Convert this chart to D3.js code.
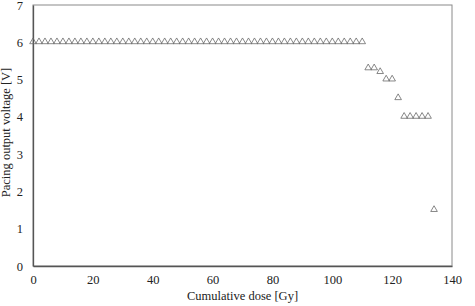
<!DOCTYPE html>
<html>
<head>
<meta charset="utf-8">
<script src="https://cdn.jsdelivr.net/npm/d3@7"></script>
<style>
  body { margin: 0; background: #fff; }
  text { font-family: "Liberation Serif", "Times New Roman", serif; fill: #222; }
</style>
</head>
<body>
<svg id="chart"></svg>
<script>
// dose every 2 Gy, output voltage
const doses = d3.range(0, 111, 2).concat([112, 114, 116, 118, 120, 122, 124, 126, 128, 130, 132, 134]);
const voltages = doses.slice(0, 56).map(() => 6.0)
  .concat([5.3, 5.3, 5.2, 5.0, 5.0, 4.5, 4.0, 4.0, 4.0, 4.0, 4.0, 1.5]);
const xTicks = [0, 20, 40, 60, 80, 100, 120, 140];
const yTicks = [0, 1, 2, 3, 4, 5, 6, 7];

const width = 475, height = 306;
const margin = { top: 5, right: 23, bottom: 40, left: 33 };
const w = width - margin.left - margin.right;
const h = height - margin.top - margin.bottom;

const svg = d3.select("#chart").attr("width", width).attr("height", height);
const chart = svg.append("g").attr("transform", `translate(${margin.left},${margin.top})`);

const x = d3.scaleLinear().domain([0, 140]).range([0, w]);
const y = d3.scaleLinear().domain([0, 7]).range([h, 0]);

// plot border
chart.append("rect")
  .attr("width", w).attr("height", h)
  .attr("fill", "none").attr("stroke", "#8a8a8a").attr("stroke-width", 1);

const xAxis = chart.append("g")
  .attr("transform", `translate(0,${h})`)
  .call(d3.axisBottom(x).tickValues(xTicks).tickFormat(d3.format("d")).tickSize(0).tickPadding(9));
const yAxis = chart.append("g")
  .call(d3.axisLeft(y).tickValues(yTicks).tickFormat(d3.format("d")).tickSize(0).tickPadding(10));

[xAxis, yAxis].forEach(a => {
  a.select(".domain").attr("stroke", "#555").attr("stroke-width", 1.3);
  a.selectAll("text")
    .style("font-family", "Liberation Serif, serif")
    .style("font-size", "12.5px")
    .attr("fill", "#222");
});

// triangles
const tri = d3.symbol().type(d3.symbolTriangle).size(19);
chart.selectAll(".pt")
  .data(doses.map((d, i) => ({ dose: d, v: voltages[i] })))
  .enter().append("path")
    .attr("class", "pt")
    .attr("d", tri)
    .attr("transform", d => `translate(${x(d.dose)},${y(d.v) - 0.5})`)
    .attr("fill", "none")
    .attr("stroke", "#6a6a6a")
    .attr("stroke-width", 0.8);

svg.append("text")
  .attr("x", margin.left + w / 2).attr("y", 300)
  .attr("text-anchor", "middle")
  .style("font-size", "12.5px")
  .text("Cumulative dose [Gy]");

svg.append("text")
  .attr("transform", `translate(10,${margin.top + h / 2 - 3}) rotate(-90)`)
  .attr("text-anchor", "middle")
  .style("font-size", "12.5px")
  .text("Pacing output voltage [V]");
</script>
</body>
</html>
